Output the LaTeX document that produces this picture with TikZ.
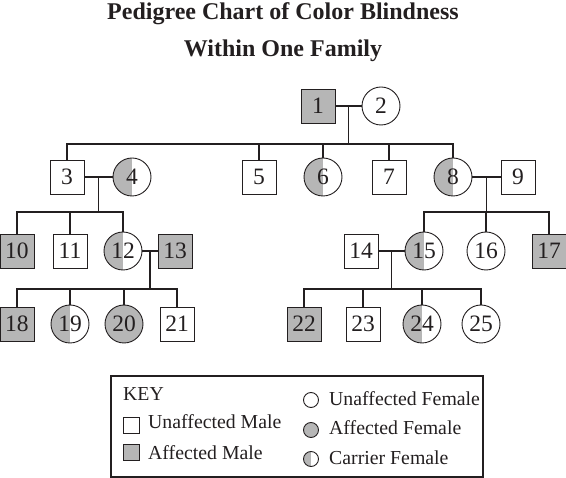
\documentclass[tikz,border=0pt]{standalone}
\usepackage{fontspec}
\setmainfont{Liberation Serif}
\usetikzlibrary{positioning,calc}
\definecolor{PedInk}{RGB}{35,31,32}
\definecolor{PedGray}{RGB}{182,182,182}
\tikzset{
  ped base/.style={
    draw=PedInk,
    line width=0.9pt,
    inner sep=0pt,
    text=PedInk,
    font=\fontsize{23.5}{23.5}\selectfont
  },
  ped male/.style={ped base, rectangle, minimum size=34pt, fill=white},
  ped male aff/.style={ped male, fill=PedGray},
  ped female/.style={ped base, circle, minimum size=38pt, fill=white},
  ped female aff/.style={ped female, fill=PedGray},
  ped half/.style={path picture={\fill[PedGray] (path picture bounding box.south west) rectangle (path picture bounding box.north);}},
  ped carrier/.style={ped female, ped half},
  ped line/.style={draw=PedInk, line width=1.3pt},
  key sq/.style={ped base, rectangle, minimum size=16pt, fill=white},
  key ci/.style={ped base, circle, minimum size=15pt, fill=white},
  key text/.style={font=\fontsize{19.8}{19.8}\selectfont, text=PedInk, anchor=base west, inner sep=0pt},
  title text/.style={font=\fontsize{24}{24}\selectfont\bfseries, text=PedInk, anchor=base, inner sep=0pt}
}

\begin{document}
\begin{tikzpicture}[x=1pt,y=-1pt]
\useasboundingbox (0,0) rectangle (566,478);
% title
\node[title text] (t1) at (283,20) {Pedigree Chart of Color Blindness};
\node[title text] (t2) at (283,57) {Within One Family};
% generation I
\node[ped male aff] (p1) at (318,106) {1};
\node[ped female] (p2) at (381,106) {2};
% generation II
\node[ped male] (p3) at (67,177) {3};
\node[ped carrier] (p4) at (132,177) {4};
\node[ped male] (p5) at (259,177) {5};
\node[ped carrier] (p6) at (323,177) {6};
\node[ped male] (p7) at (389,177) {7};
\node[ped carrier] (p8) at (453,177) {8};
\node[ped male] (p9) at (518,177) {9};
% generation III
\node[ped male aff] (p10) at (17,251) {10};
\node[ped male] (p11) at (70,251) {11};
\node[ped carrier] (p12) at (123,251) {12};
\node[ped male aff] (p13) at (175,251) {13};
\node[ped male] (p14) at (361,251) {14};
\node[ped carrier] (p15) at (424,251) {15};
\node[ped female] (p16) at (486,251) {16};
\node[ped male aff] (p17) at (549,251) {17};
% generation IV
\node[ped male aff] (p18) at (17,324) {18};
\node[ped carrier] (p19) at (70,324) {19};
\node[ped female aff] (p20) at (124,324) {20};
\node[ped male] (p21) at (177,324) {21};
\node[ped male aff] (p22) at (304,324) {22};
\node[ped male] (p23) at (363,324) {23};
\node[ped carrier] (p24) at (422,324) {24};
\node[ped female] (p25) at (481,324) {25};
% couples and drops
\coordinate (m12) at ($(p1.east)!0.5!(p2.west)$);
\coordinate (s12) at ($(m12)+(0,38)$);
\coordinate (m34) at ($(p3.east)!0.5!(p4.west)$);
\coordinate (s34) at ($(m34)+(0,35)$);
\coordinate (m89) at ($(p8.east)!0.5!(p9.west)$);
\coordinate (s89) at ($(m89)+(0,35)$);
\coordinate (m1213) at ($(p12.east)!0.5!(p13.west)$);
\coordinate (s1213) at ($(m1213)+(0,38)$);
\coordinate (m1415) at ($(p14.east)!0.5!(p15.west)$);
\coordinate (s1415) at ($(m1415)+(0,38)$);
\draw[ped line] (p1.east)--(p2.west) (m12)--(s12);
\draw[ped line] (p3.east)--(p4.west) (m34)--(s34);
\draw[ped line] (p8.east)--(p9.west) (m89)--(s89);
\draw[ped line] (p12.east)--(p13.west) (m1213)--(s1213);
\draw[ped line] (p14.east)--(p15.west) (m1415)--(s1415);
% sibships
\draw[ped line] (p3.north)|-(s12)-|(p8.north);
\foreach \c in {p5,p6,p7} \draw[ped line] (\c.north)--(\c.north|-s12);
\draw[ped line] (p10.north)|-(s34)-|(p12.north);
\draw[ped line] (p11.north)--(p11.north|-s34);
\draw[ped line] (p15.north)|-(s89)-|(p17.north);
\draw[ped line] (p16.north)--(p16.north|-s89);
\draw[ped line] (p18.north)|-(s1213)-|(p21.north);
\foreach \c in {p19,p20} \draw[ped line] (\c.north)--(\c.north|-s1213);
\draw[ped line] (p22.north)|-(s1415)-|(p25.north);
\foreach \c in {p23,p24} \draw[ped line] (\c.north)--(\c.north|-s1415);
% key
\draw[draw=PedInk, line width=1.1pt] (111,376) rectangle (483,477);
\node[key text] (keyhd) at (123,401) {KEY};
\node[key sq] (ksq1) at (131.5,425) {};
\node[key text] (ktx1) at (148,429) {Unaffected Male};
\node[key sq, fill=PedGray] (ksq2) at (131.5,452) {};
\node[key text] (ktx2) at (148,460) {Affected Male};
\node[key ci] (kci1) at (311,400) {};
\node[key text] (ktx3) at (329,406) {Unaffected Female};
\node[key ci, fill=PedGray] (kci2) at (311,430) {};
\node[key text] (ktx4) at (329,435) {Affected Female};
\node[key ci, ped half] (kci3) at (311,459) {};
\node[key text] (ktx5) at (329,465) {Carrier Female};
\end{tikzpicture}
\end{document}
